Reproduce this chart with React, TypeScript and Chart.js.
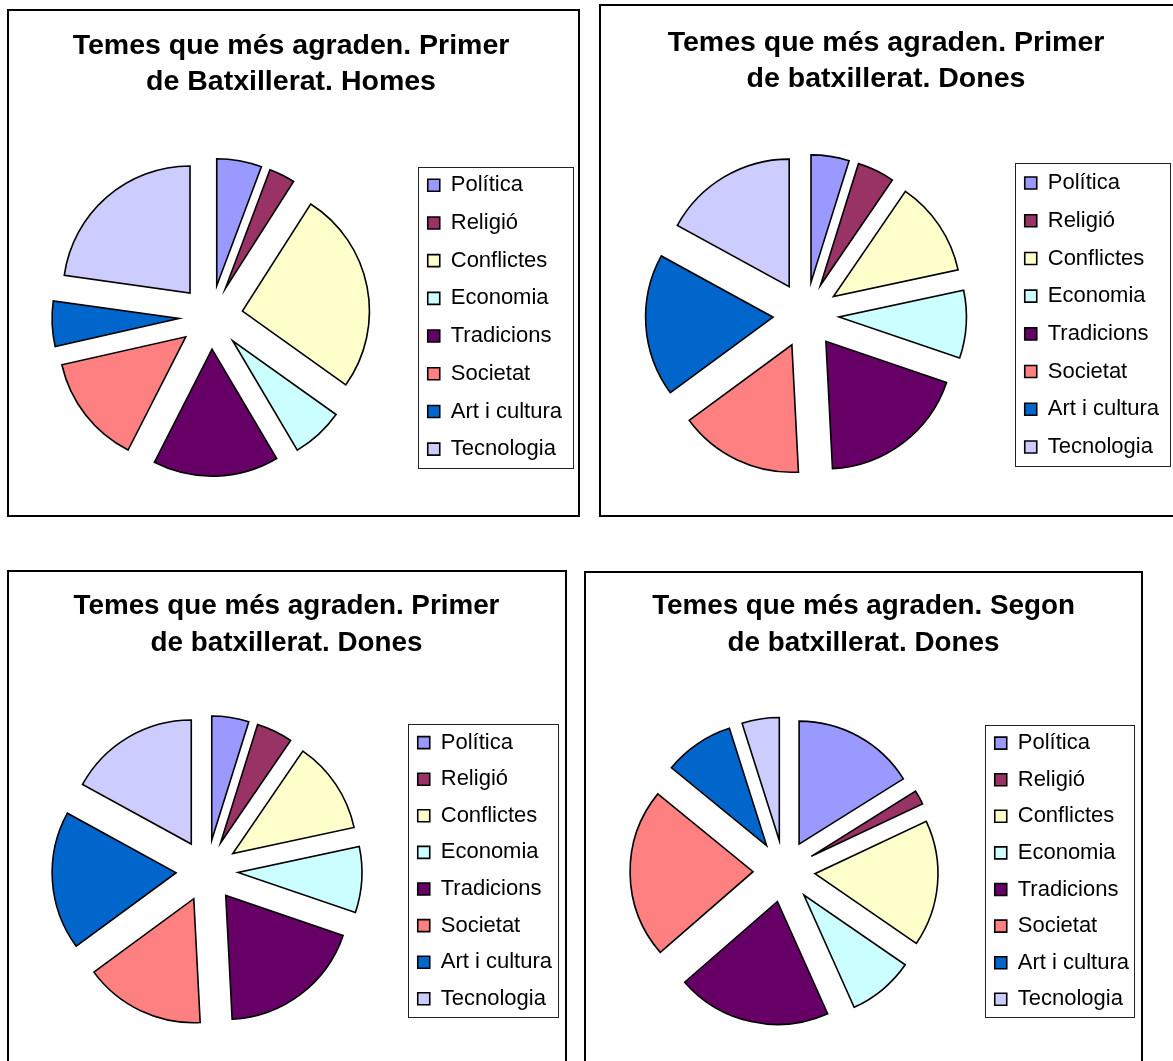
import React, { useEffect, useRef } from "react";
import { Chart, registerables } from "chart.js";

Chart.register(...registerables);

// ---------- data ----------
const categories = [
  "Política",
  "Religió",
  "Conflictes",
  "Economia",
  "Tradicions",
  "Societat",
  "Art i cultura",
  "Tecnologia",
];
const sliceColors = [
  "#9999FF",
  "#993366",
  "#FFFFCC",
  "#CCFFFF",
  "#660066",
  "#FF8080",
  "#0066CC",
  "#CCCCFF",
];
const homesPrimer = [5.72, 3.31, 25.83, 6.64, 16.0, 13.97, 5.75, 22.78];
const donesPrimer = [4.82, 4.72, 12.08, 8.58, 18.93, 15.72, 18.04, 17.01];
const donesSegon = [16.1, 1.9, 16.6, 8.7, 20.3, 22.3, 9.2, 4.9];

const titleHomesPrimer = ["Temes que més agraden. Primer", "de Batxillerat. Homes"];
const titleDonesPrimer = ["Temes que més agraden. Primer", "de batxillerat. Dones"];
const titleDonesSegon = ["Temes que més agraden. Segon", "de batxillerat. Dones"];

const FONT = "'Liberation Sans', Arial, Helvetica, sans-serif";
const EXTRA_RIGHT = 20;

// ---------- plugins ----------
const explodePlugin = {
  id: "explode",
  afterDatasetsUpdate(chart: any, _args: any, opts: any) {
    const d = (opts && opts.distance) || 0;
    const meta = chart.getDatasetMeta(0);
    meta.data.forEach((arc: any) => {
      const mid = (arc.startAngle + arc.endAngle) / 2;
      arc.x += Math.cos(mid) * d;
      arc.y += Math.sin(mid) * d;
    });
  },
};

const legendFramePlugin = {
  id: "legendFrame",
  afterDraw(chart: any, _args: any, opts: any) {
    const lg = chart.legend;
    if (!lg || !lg.legendHitBoxes || !lg.legendHitBoxes.length) return;
    const hb = lg.legendHitBoxes[0];
    const ca = chart.chartArea;
    const cy = (ca.top + ca.bottom) / 2;
    const ctx = chart.ctx;
    const x = Math.round(hb.left - opts.inset) + 0.5;
    const y = Math.round(cy - opts.height / 2) + 0.5;
    ctx.save();
    ctx.strokeStyle = "#222";
    ctx.lineWidth = 1;
    ctx.strokeRect(x, y, Math.round(opts.width), Math.round(opts.height));
    ctx.restore();
  },
};

type PanelCfg = {
  values: number[];
  title: string[];
  frame: [number, number, number, number];
  canvas: [number, number, number, number];
  titleSize: number;
  titleLine: number;
  titlePadTop: number;
  legendPad: number;
  radius: number;
  explode: number;
  frameW: number;
  frameH: number;
};

const panels: PanelCfg[] = [
  {
    values: homesPrimer,
    title: titleHomesPrimer,
    frame: [7, 9, 573, 508],
    canvas: [10, 12, 562, 512],
    titleSize: 28.5,
    titleLine: 1.27,
    titlePadTop: 16,
    legendPad: 15.7,
    radius: 127,
    explode: 32,
    frameW: 155,
    frameH: 301,
  },
  {
    values: donesPrimer,
    title: titleDonesPrimer,
    frame: [599, 4, 581, 513],
    canvas: [603, 7, 566, 516],
    titleSize: 28.5,
    titleLine: 1.27,
    titlePadTop: 17.6,
    legendPad: 15.7,
    radius: 127.5,
    explode: 33,
    frameW: 155,
    frameH: 303,
  },
  {
    values: donesPrimer,
    title: titleDonesPrimer,
    frame: [7, 570, 560, 510],
    canvas: [11, 573, 551, 497],
    titleSize: 27.8,
    titleLine: 1.32,
    titlePadTop: 15,
    legendPad: 14.6,
    radius: 124,
    explode: 31,
    frameW: 150,
    frameH: 293,
  },
  {
    values: donesSegon,
    title: titleDonesSegon,
    frame: [584, 571, 559, 510],
    canvas: [588, 573, 551, 498],
    titleSize: 27.8,
    titleLine: 1.32,
    titlePadTop: 15,
    legendPad: 14.6,
    radius: 123,
    explode: 31,
    frameW: 149,
    frameH: 292,
  },
];

function PiePanel({ cfg }: { cfg: PanelCfg }) {
  const ref = useRef<HTMLCanvasElement | null>(null);

  useEffect(() => {
    if (!ref.current) return;
    const chart = new Chart(ref.current, {
      type: "pie",
      data: {
        labels: categories,
        datasets: [
          {
            data: cfg.values,
            backgroundColor: sliceColors,
            borderColor: "#000",
            borderWidth: 1.6,
            borderJoinStyle: "miter",
            radius: cfg.radius,
            clip: false,
          } as any,
        ],
      },
      options: {
        responsive: false,
        animation: false,
        events: [],
        devicePixelRatio: 1,
        layout: { padding: { left: 0, top: 0, bottom: 0, right: EXTRA_RIGHT } },
        plugins: {
          title: {
            display: true,
            text: cfg.title,
            color: "#000",
            fullSize: true,
            font: {
              family: FONT,
              size: cfg.titleSize,
              weight: "bold",
              lineHeight: cfg.titleLine,
            },
            padding: { top: cfg.titlePadTop, bottom: 10 },
          },
          legend: {
            display: true,
            position: "right",
            fullSize: false,
            align: "center",
            labels: {
              color: "#000",
              boxWidth: 12,
              boxHeight: 12,
              padding: cfg.legendPad,
              font: { family: FONT, size: 22 },
            },
          },
          tooltip: { enabled: false },
          explode: { distance: cfg.explode },
          legendFrame: { inset: 9.5, width: cfg.frameW, height: cfg.frameH },
        } as any,
      },
      plugins: [explodePlugin as any, legendFramePlugin as any],
    });
    return () => chart.destroy();
  }, [cfg]);

  const [fx, fy, fw, fh] = cfg.frame;
  const [cx, cy, cw, ch] = cfg.canvas;
  return (
    <>
      <div
        style={{
          position: "absolute",
          left: fx,
          top: fy,
          width: fw,
          height: fh,
          border: "2px solid #000",
          boxSizing: "border-box",
          background: "#fff",
        }}
      />
      <canvas
        ref={ref}
        width={cw + EXTRA_RIGHT}
        height={ch}
        style={{ position: "absolute", left: cx, top: cy, display: "block" }}
      />
    </>
  );
}

export default function App() {
  return (
    <div
      style={{
        position: "absolute",
        left: 0,
        top: 0,
        width: 1173,
        height: 1061,
        overflow: "hidden",
        background: "#fff",
      }}
    >
      {panels.map((p, i) => (
        <PiePanel key={i} cfg={p} />
      ))}
    </div>
  );
}
